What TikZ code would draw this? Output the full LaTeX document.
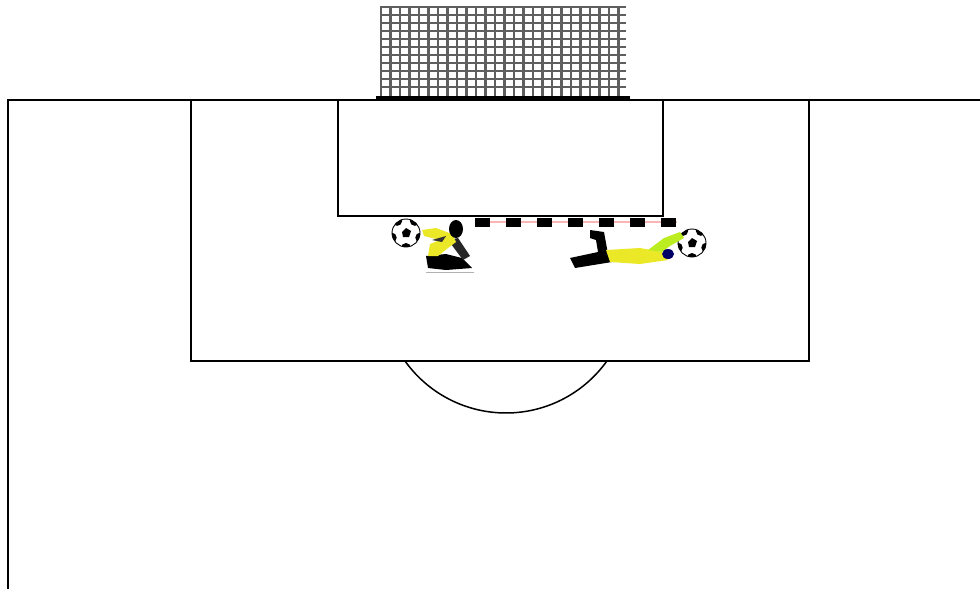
\documentclass[tikz,border=0pt]{standalone}
\usepackage{xcolor}
\usepackage{tikz}

\definecolor{kityellow}{RGB}{235,232,40}
\definecolor{netgray}{RGB}{95,95,95}
\definecolor{barpink}{RGB}{250,180,180}

\tikzset{
  pitchline/.style={line width=1.5pt},
  netline/.style={netgray, line width=2.6pt},
  ball/.pic={
    \draw[line width=0.9pt, fill=white] (0,0) circle (14);
    \fill (-4,-1) -- (0,-5) -- (5,-2) -- (3,4) -- (-3,4) -- cycle;
    \begin{scope}
      \clip (0,0) circle (14);
      \foreach \a in {18,90,162,234,306}
        \fill (\a:15) circle (5);
    \end{scope}
  }
}

\begin{document}
\begin{tikzpicture}[x=1pt,y=-1pt]
    \useasboundingbox (0,0) rectangle (980,589);

    % Draw the goal net
    \foreach \x in {381,390.5,...,626}
        \draw[netline] (\x,6) -- (\x,96);
    \foreach \y in {7,15,...,92}
        \draw[netline] (380,\y) -- (626,\y);
    \draw[line width=3pt] (376,97) -- (630,97);

    % Draw the pitch lines
    \draw[pitchline] (8,589) -- (8,100) -- (980,100);
    \draw[pitchline] (191,100) rectangle (809,361);
    \draw[pitchline] (338,100) rectangle (663,216);
    \draw[pitchline] (405,361) arc[start angle=144.5, end angle=35.5, radius=124];

    % Draw the marked line
    \draw[barpink, line width=1.6pt] (475,222) -- (677,222);
    \foreach \k in {0,...,6}
        \fill (475+31*\k,218) rectangle ++(15,9);

    % Add the balls
    \pic at (406,233) {ball};
    \pic at (692,243) {ball};

    % Draw the crouching keeper
    \draw[gray!60, line width=0.8pt] (426,272) -- (474,272);
    \fill[black] (426,256) -- (446,254) -- (462,258) -- (472,268) -- (446,270) -- (428,268) -- cycle;
    \fill[black!85] (448,240) -- (458,238) -- (470,256) -- (463,260) -- cycle;
    \fill[kityellow] (422,230) -- (436,228) -- (452,234) -- (456,242) -- (448,248) -- (438,256) -- (428,256) -- (430,244) -- (440,240) -- (424,236) -- cycle;
    \fill[black!80] (432,240) -- (446,236) -- (442,242) -- cycle;
    \fill[black] (456,229) ellipse (7 and 9);

    % Draw the diving keeper
    \fill[black] (570,258) -- (598,252) -- (596,240) -- (590,238) -- (590,230) -- (604,232) -- (608,254) -- (612,262) -- (575,268) -- cycle;
    \fill[kityellow] (606,250) -- (640,248) -- (662,252) -- (668,260) -- (640,264) -- (610,262) -- cycle;
    \fill[kityellow!80!green] (648,250) -- (664,238) -- (680,232) -- (684,238) -- (670,246) -- (662,252) -- cycle;
    \fill[blue!40!black] (668,254) ellipse (6 and 5);
\end{tikzpicture}
\end{document}
